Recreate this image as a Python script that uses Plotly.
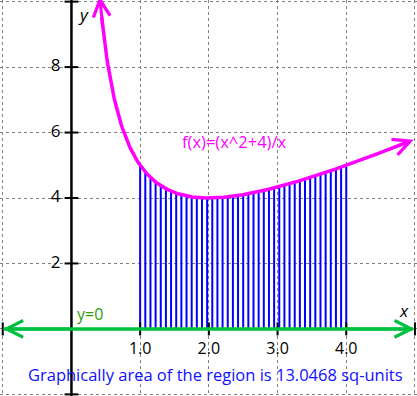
import numpy as np
import plotly.graph_objects as go

# ---- data ----
def f(x):
    return (x**2 + 4) / x

curve_x_start, curve_x_end = 0.41, 4.98
strip_start, strip_end, strip_count = 1.0, 4.0, 41
x_ticks = [1, 2, 3, 4]
x_tick_labels = ["1.0", "2.0", "3.0", "4.0"]
y_ticks = [2, 4, 6, 8]
y_tick_labels = ["2", "4", "6", "8"]
func_label = "f(x)=(x^2+4)/x"
axis_label = "y=0"
area_text = "Graphically area of the region is 13.0468 sq-units"

x_range = [-1.04, 5.03]
y_range = [-2.05, 10.05]

FONT = "Open Sans"
MAGENTA = "#FF00FF"
BLUE = "#0000FF"
GREEN = "#00C040"

fig = go.Figure()

# strips
sx = np.linspace(strip_start, strip_end, strip_count)
lx, ly = [], []
for v in sx:
    lx += [v, v, None]
    ly += [0, f(v), None]
fig.add_trace(go.Scatter(x=lx, y=ly, mode="lines", line=dict(color=BLUE, width=2), hoverinfo="skip"))

# y axis
fig.add_trace(go.Scatter(x=[0, 0], y=[-2.1, 10.1], mode="lines", line=dict(color="black", width=2.5), hoverinfo="skip"))
# ticks
tx, ty = [], []
for v in [-2] + y_ticks + [10]:
    tx += [-0.1, 0.1, None]
    ty += [v, v, None]
for v in [-1] + x_ticks + [5]:
    tx += [v, v, None]
    ty += [-0.2, 0.2, None]
fig.add_trace(go.Scatter(x=tx, y=ty, mode="lines", line=dict(color="black", width=2), hoverinfo="skip"))

# x axis (green)
fig.add_trace(go.Scatter(x=[-0.98, 4.97], y=[0, 0], mode="lines", line=dict(color=GREEN, width=3.5), hoverinfo="skip"))

# curve
cx = np.linspace(curve_x_start + 0.03, curve_x_end - 0.05, 300)
fig.add_trace(go.Scatter(x=cx, y=f(cx), mode="lines", line=dict(color=MAGENTA, width=3.5), hoverinfo="skip"))

# arrows
def arrow(x0, y0, x1, y1, color):
    fig.add_annotation(x=x1, y=y1, ax=x0, ay=y0, xref="x", yref="y", axref="x", ayref="y",
                       showarrow=True, arrowhead=5, arrowsize=1.1, arrowwidth=3, arrowcolor=color, text="")

arrow(curve_x_start + 0.05, f(curve_x_start + 0.05), curve_x_start, f(curve_x_start), MAGENTA)
arrow(curve_x_end - 0.4, f(curve_x_end - 0.4), curve_x_end, f(curve_x_end), MAGENTA)
arrow(0, 0, -1.0, 0, GREEN)
arrow(4, 0, 5.0, 0, GREEN)

# tick labels
fig.add_trace(go.Scatter(x=x_ticks, y=[-0.64] * len(x_ticks), mode="text", text=x_tick_labels,
                         textfont=dict(family=FONT, size=16, color="black"), hoverinfo="skip"))
fig.add_trace(go.Scatter(x=[-0.23] * len(y_ticks), y=y_ticks, mode="text", text=y_tick_labels,
                         textfont=dict(family=FONT, size=17, color="black"), hoverinfo="skip"))

fig.add_annotation(x=2.38, y=5.74, xref="x", yref="y", text=func_label, showarrow=False,
                   font=dict(family=FONT, size=16.5, color=MAGENTA))
fig.add_annotation(x=0.27, y=0.46, xref="x", yref="y", text=axis_label, showarrow=False,
                   font=dict(family=FONT, size=16, color="#2E9B0E"))
fig.add_annotation(x=4.84, y=0.55, xref="x", yref="y", text="<i>x</i>", showarrow=False,
                   font=dict(family=FONT, size=17, color="black"))
fig.add_annotation(x=0.17, y=9.6, xref="x", yref="y", text="<i>y</i>", showarrow=False,
                   font=dict(family=FONT, size=17, color="black"))
fig.add_annotation(x=2.09, y=-1.4, xref="x", yref="y", text=area_text, showarrow=False,
                   font=dict(family=FONT, size=16.5, color="#1010FF"))

grid = dict(showgrid=True, gridcolor="#808080", griddash="3px,3px", gridwidth=1,
            zeroline=False, showticklabels=False, ticks="")
fig.update_xaxes(range=x_range, dtick=1, tick0=0, **grid)
fig.update_yaxes(range=y_range, dtick=2, tick0=0, **grid)
fig.update_layout(width=417, height=396, margin=dict(l=0, r=0, t=0, b=0),
                  plot_bgcolor="white", paper_bgcolor="white", showlegend=False)

fig.write_html("out.html", config={"displayModeBar": False},
               post_script="document.body.style.margin='0';document.body.style.overflow='hidden';")
